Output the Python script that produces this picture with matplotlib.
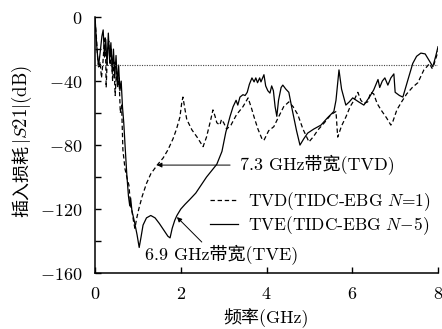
import numpy as np
import matplotlib
matplotlib.use("Agg")
import matplotlib.pyplot as plt

plt.rcParams['font.family'] = ['cmr10', 'Noto Sans CJK SC', 'DejaVu Sans']
plt.rcParams['mathtext.fontset'] = 'cm'
plt.rcParams['axes.formatter.use_mathtext'] = True
plt.rcParams['font.size'] = 13

# TVE (TIDC-EBG N=5), solid
f_tve = [0, 0.04, 0.08, 0.12, 0.16, 0.19, 0.22, 0.25, 0.28, 0.31, 0.34, 0.37, 0.4, 0.43,
         0.46, 0.49, 0.52, 0.55, 0.58, 0.61, 0.64, 0.67, 0.7, 0.74, 0.78, 0.81, 0.83, 0.86,
         0.92, 0.98, 1.03, 1.07, 1.12, 1.2, 1.3, 1.4, 1.5, 1.6, 1.7, 1.75, 1.8, 1.86, 1.91,
         2.0, 2.1, 2.21, 2.35, 2.45, 2.6, 2.72, 2.84, 2.96, 3.05, 3.15, 3.22, 3.29, 3.33,
         3.38, 3.45, 3.5, 3.55, 3.6, 3.66, 3.71, 3.75, 3.79, 3.84, 3.87, 3.94, 3.98, 4.03,
         4.08, 4.12, 4.16, 4.2, 4.24, 4.28, 4.34, 4.38, 4.45, 4.52, 4.6, 4.7, 4.78, 4.87,
         4.96, 5.1, 5.27, 5.42, 5.57, 5.62, 5.69, 5.75, 5.85, 5.93, 6.01, 6.15, 6.27, 6.4,
         6.5, 6.6, 6.64, 6.7, 6.76, 6.83, 6.9, 6.97, 7.0, 7.1, 7.18, 7.3, 7.41, 7.5, 7.6,
         7.7, 7.79, 7.88, 7.95, 8.0]
s21_tve = [0, -18, -31, -22, -12, -8, -25, -14, -30, -10, -27, -16, -34, -20,
           -38, -24, -42, -30, -46, -40, -56, -66, -80, -98, -112, -118, -113, -121,
           -128, -136, -144, -138, -130, -125.5, -124, -125.5, -129, -133, -137, -138, -132, -127, -124,
           -120, -117, -114, -110, -106, -100, -96, -92, -84, -72, -62, -56, -52, -55,
           -50, -48.5, -49, -47, -42, -38, -40.5, -38, -41, -38, -40.5, -36, -43, -46,
           -47.5, -43, -46, -56, -62, -52, -44, -42.5, -45, -47, -58, -71, -80, -76,
           -72.5, -70, -67.5, -63, -59, -52, -33, -45, -55, -53, -50.5, -53, -55, -50,
           -45.5, -39, -44, -40, -38, -42.5, -38, -35.5, -47, -49, -50, -39, -29, -24.5, -22.5,
           -23, -27, -31, -24, -18.5]

# TVD (TIDC-EBG N=1), dashed
f_tvd = [0, 0.03, 0.06, 0.09, 0.12, 0.15, 0.18, 0.21, 0.24, 0.26, 0.29, 0.32, 0.35, 0.38,
         0.41, 0.44, 0.47, 0.5, 0.53, 0.56, 0.59, 0.62, 0.65, 0.7, 0.75, 0.79, 0.83, 0.86,
         0.9, 0.93, 0.97, 1.02, 1.1, 1.2, 1.3, 1.45, 1.59, 1.7, 1.82, 1.9, 1.98, 2.02, 2.05,
         2.1, 2.14, 2.26, 2.38, 2.52, 2.6, 2.7, 2.75, 2.8, 2.84, 2.91, 2.95, 3.0, 3.07, 3.17,
         3.3, 3.45, 3.57, 3.65, 3.71, 3.8, 3.9, 3.94, 4.05, 4.17, 4.27, 4.4, 4.52, 4.62, 4.73,
         4.85, 4.99, 5.1, 5.2, 5.35, 5.5, 5.62, 5.66, 5.75, 5.85, 5.95, 6.04, 6.13, 6.2, 6.27,
         6.36, 6.43, 6.5, 6.58, 6.67, 6.8, 6.9, 6.95, 7.04, 7.15, 7.27, 7.4, 7.53, 7.67, 7.74,
         7.8, 7.86, 7.9, 7.97, 8.0]
s21_tvd = [-2, -12, -25, -32, -28, -38, -30, -18, -12, -44, -22, -15, -30, -20,
           -40, -28, -49, -34, -44, -38, -60, -55, -83, -95, -101, -105, -118, -121,
           -128, -132, -126, -120, -112, -104, -98, -92.5, -88, -83, -76, -70, -62.5, -54, -50,
           -58, -64, -70.5, -75, -81, -75, -64, -58, -62, -66, -67.5, -64, -66, -70, -67.5,
           -61, -56, -50.5, -57, -62.5, -70, -76.5, -77, -71, -68.5, -63, -56, -53, -56, -61,
           -70, -78, -74.5, -70.5, -66, -61, -59, -75, -68, -62.5, -56, -52, -47, -52, -54,
           -53, -47, -48, -54, -58, -63, -67.5, -65, -58, -53, -48, -44, -41, -33, -31,
           -29, -32, -30, -24, -21]

ref_level = -30
xticks = [0, 2, 4, 6, 8]
yticks = [-160, -120, -80, -40, 0]
yminor = [-140, -100, -60, -20]

fig = plt.figure(figsize=(4.42, 3.29), dpi=100)
ax = fig.add_axes([0.215, 0.170, 0.776, 0.778])

ax.plot(f_tvd, s21_tvd, color='k', lw=0.9, linestyle=(0, (3.5, 2.2)),
        label='TVD(TIDC-EBG $N$=1)')
ax.plot(f_tve, s21_tve, color='k', lw=0.9, label='TVE(TIDC-EBG $N{-}5$)')
ax.axhline(ref_level, color='#444444', lw=0.8, linestyle=(0, (1, 1.2)))

# annotations
ax.annotate('', xy=(1.445, -92.5), xytext=(3.15, -92.5),
            arrowprops=dict(arrowstyle='-|>', lw=0.7, color='k', mutation_scale=7,
                            shrinkA=0, shrinkB=0))
ax.text(3.38, -92.5, '7.3 GHz带宽(TVD)', ha='left', va='center')
ax.annotate('', xy=(1.91, -125), xytext=(2.49, -140.6),
            arrowprops=dict(arrowstyle='-|>', lw=0.7, color='k', mutation_scale=7,
                            shrinkA=0, shrinkB=0))
ax.text(1.17, -148.5, '6.9 GHz带宽(TVE)', ha='left', va='center')

ax.set_xlim(0, 8)
ax.set_ylim(-160, 0)
ax.set_xticks(xticks)
ax.set_yticks(yticks)
ax.set_yticks(yminor, minor=True)
ax.tick_params(which='both', direction='in', length=4, width=1, labelsize=13)
ax.tick_params(axis='x', pad=9)
ax.tick_params(axis='y', pad=9)

for side in ['top', 'right']:
    ax.spines[side].set_visible(False)
for side in ['left', 'bottom']:
    ax.spines[side].set_linewidth(1.1)

ax.set_xlabel('频率(GHz)', labelpad=5)

# y label in two parts (CJK text + math part)
fig.text(0.05, 0.451, '插入损耗', rotation=90, ha='center', va='center',
         family='Noto Sans CJK SC', fontsize=13)
fig.text(0.05, 0.681, r'$|S21|(\mathrm{dB})$', rotation=90, ha='center', va='center',
         fontsize=13.5)

ax.legend(loc='upper left', bbox_to_anchor=(0.335, 0.325), frameon=False,
          handlelength=1.6, handletextpad=0.6, borderaxespad=0, borderpad=0,
          labelspacing=0.12, fontsize=12.5)

fig.savefig('out.png', dpi=100)
